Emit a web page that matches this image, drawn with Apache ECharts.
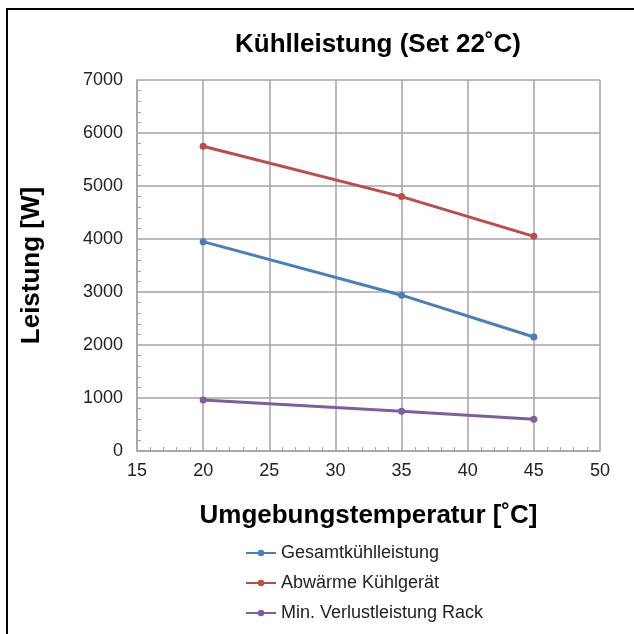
<!DOCTYPE html>
<html>
<head>
<meta charset="utf-8">
<script src="https://cdn.jsdelivr.net/npm/echarts@6/dist/echarts.min.js"></script>
<style>
html,body{margin:0;padding:0;background:#fff;}
#c{width:634px;height:634px;}
</style>
</head>
<body>
<div id="c"></div>
<script>
const temperatures = [20, 35, 45];
const gesamt = [3950, 2940, 2150];
const abwaerme = [5750, 4800, 4050];
const verlust = [960, 750, 600];
const seriesNames = ['Gesamtkühlleistung', 'Abwärme Kühlgerät', 'Min. Verlustleistung Rack'];
const colors = ['#4a7ebb', '#be4b48', '#7d5fa0'];

const pair = arr => temperatures.map((t, i) => [t, arr[i]]);
const chart = echarts.init(document.getElementById('c'));
const font = '"Liberation Sans", Arial, sans-serif';
const gridColor = '#a3a3a3';

chart.setOption({
  animation: false,
  backgroundColor: '#fff',
  textStyle: { fontFamily: font },
  title: {
    text: 'Kühlleistung (Set 22˚C)',
    left: 373, top: 27, textAlign: 'center',
    textStyle: { fontFamily: font, fontSize: 26, fontWeight: 'bold', color: '#000' }
  },
  graphic: [
    { type: 'polyline', shape: { points: [[7, 640], [7, 9], [640, 9]] },
      style: { stroke: '#000', lineWidth: 2, fill: null } }
  ],
  legend: {
    orient: 'vertical', left: 240, top: 539, itemGap: 12, itemWidth: 30, itemHeight: 8,
    textStyle: { fontFamily: font, fontSize: 18, color: '#222' },
    data: seriesNames
  },
  grid: { left: 137, right: 34, top: 80, bottom: 183 },
  xAxis: {
    type: 'value', min: 15, max: 50, interval: 5,
    name: 'Umgebungstemperatur [˚C]', nameLocation: 'middle', nameGap: 52,
    nameTextStyle: { fontFamily: font, fontSize: 26, fontWeight: 'bold', color: '#000' },
    axisLine: { lineStyle: { color: gridColor, width: 1.5 } },
    axisTick: { show: true, inside: true, length: 0, lineStyle: { width: 0 } },
    minorTick: { show: true, splitNumber: 5, length: 4, lineStyle: { color: gridColor, width: 1 } },
    axisLabel: { fontSize: 18, color: '#222', margin: 11 },
    splitLine: { show: true, lineStyle: { color: gridColor, width: 1.5 } }
  },
  yAxis: {
    type: 'value', min: 0, max: 7000, interval: 1000,
    name: 'Leistung [W]', nameLocation: 'middle', nameGap: 92,
    nameTextStyle: { fontFamily: font, fontSize: 26, fontWeight: 'bold', color: '#000' },
    axisLine: { show: true, lineStyle: { color: gridColor, width: 1.5 } },
    axisTick: { show: true, inside: true, length: 0, lineStyle: { width: 0 } },
    minorTick: { show: true, splitNumber: 5, length: 4, lineStyle: { color: gridColor, width: 1 } },
    axisLabel: { fontSize: 18, color: '#222', margin: 14, formatter: v => String(v) },
    splitLine: { show: true, lineStyle: { color: gridColor, width: 1.5 } }
  },
  series: [gesamt, abwaerme, verlust].map((arr, i) => ({
    name: seriesNames[i], type: 'line', data: pair(arr),
    symbol: 'circle', symbolSize: 7,
    lineStyle: { color: colors[i], width: 3 },
    itemStyle: { color: colors[i] }
  }))
});
</script>
</body>
</html>
